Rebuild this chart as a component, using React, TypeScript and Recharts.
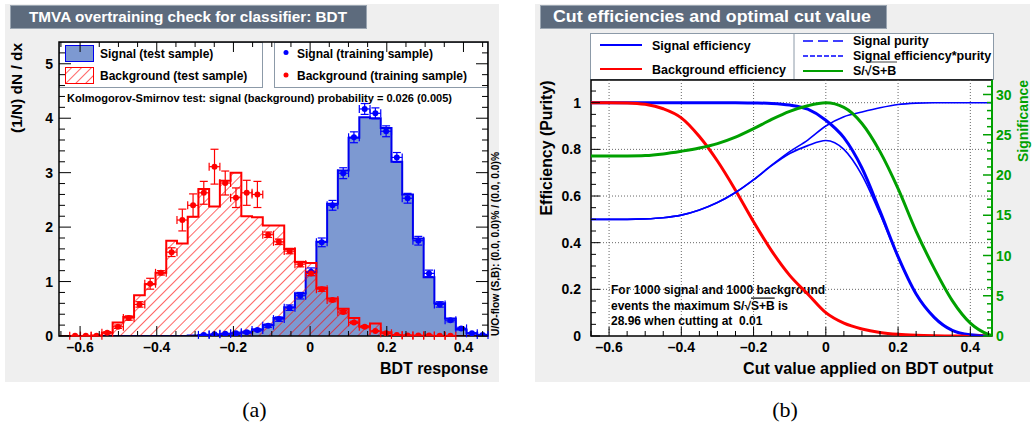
import React from 'react';
import {
  ComposedChart,
  Area,
  Line,
  Scatter,
  ErrorBar,
  XAxis,
  YAxis,
  ReferenceArea,
  ReferenceLine,
} from 'recharts';

const FONT = '"Liberation Sans", Arial, Helvetica, sans-serif';
const SERIF = '"Liberation Serif", "Times New Roman", serif';

// ---------- Panel (a): BDT response, 40 bins ----------
const BDT_MIN = -0.655;
const BDT_MAX = 0.464;
const N_BINS = 40;
const BIN_W = (BDT_MAX - BDT_MIN) / N_BINS;

// test-sample histograms (normalised, per bin)
const sigTest = [
  0, 0, 0, 0, 0, 0, 0, 0, 0, 0, 0, 0, 0.01, 0.02, 0.02, 0.03, 0.05, 0.07, 0.12, 0.2,
  0.33, 0.53, 0.78, 1.17, 1.73, 2.43, 3.04, 3.64, 4.02, 4.0, 3.82, 3.2, 2.6, 1.79, 1.08, 0.6,
  0.32, 0.12, 0.05, 0.02,
];
const bkgTest = [
  0, 0, 0, 0.01, 0.06, 0.25, 0.35, 0.75, 0.95, 1.16, 1.75, 1.7, 2.19, 2.7, 2.38, 2.85, 3.0,
  2.2, 2.18, 2.03, 2.03, 1.6, 1.36, 1.34, 0.88, 0.69, 0.5, 0.33, 0.17, 0.23, 0.07, 0.01, 0.01,
  0, 0, 0, 0, 0, 0, 0,
];

// training-sample points (null = not drawn) and their vertical errors
const sigTrain = [
  null, null, null, null, null, null, null, null, null, null, null, null, null,
  0.02, 0.03, 0.04, 0.05, 0.07, 0.11, 0.19, 0.31, 0.52, 0.74, 1.18, 1.72, 2.4, 2.99, 3.65,
  4.17, 4.09, 3.76, 3.28, 2.53, 1.75, 1.15, 0.58, 0.29, 0.14, 0.05, 0.02,
];
const sigTrainErr = [
  null, null, null, null, null, null, null, null, null, null, null, null, null,
  0.01, 0.01, 0.01, 0.02, 0.02, 0.02, 0.03, 0.04, 0.05, 0.06, 0.07, 0.08, 0.09, 0.1, 0.1,
  0.1, 0.1, 0.1, 0.09, 0.09, 0.08, 0.06, 0.05, 0.03, 0.02, 0.01, 0.01,
];
const bkgTrain = [
  null, 0.005, 0.005, 0.005, 0.06, 0.17, 0.33, 0.58, 0.96, 1.16, 1.54, 2.13, 2.4, 2.63, 3.11,
  2.81, 2.54, 2.63, 2.6, 1.86, 1.73, 1.56, 1.32, 1.15, 0.86, 0.66, 0.44, 0.25, 0.17, 0.09,
  0.05, 0.02, 0.01, 0.01, 0.01, 0.005, 0.005, null, null, null,
];
const bkgTrainErr = [
  null, 0.005, 0.005, 0.005, 0.02, 0.03, 0.04, 0.05, 0.1, 0.04, 0.08, 0.2, 0.21, 0.21, 0.32,
  0.22, 0.18, 0.23, 0.24, 0.05, 0.05, 0.05, 0.05, 0.04, 0.04, 0.03, 0.03, 0.02, 0.02, 0.01,
  0.01, 0.005, 0.005, 0.005, 0.005, 0.005, 0.005, null, null, null,
];

// ---------- Panel (b): efficiencies vs cut ----------
const cutValues = [
  -0.65, -0.6, -0.55, -0.5, -0.45, -0.4, -0.35, -0.3, -0.25, -0.2, -0.15, -0.1, -0.05, 0, 0.05,
  0.1, 0.15, 0.2, 0.25, 0.3, 0.35, 0.4, 0.45, 0.46,
];
const sigEff = [
  1, 1, 1, 1, 1, 1, 1, 1, 1, 0.999, 0.997, 0.99, 0.972, 0.925, 0.85, 0.72, 0.535, 0.34, 0.18,
  0.08, 0.024, 0.005, 0, 0,
];
const bkgEff = [
  1, 1, 0.999, 0.993, 0.974, 0.935, 0.855, 0.75, 0.625, 0.49, 0.365, 0.26, 0.18, 0.1, 0.055,
  0.03, 0.015, 0.007, 0.003, 0.001, 0, 0, 0, 0,
];
const sigPurity = [
  0.5, 0.5, 0.5, 0.502, 0.507, 0.518, 0.54, 0.572, 0.615, 0.67, 0.732, 0.79, 0.84, 0.9, 0.94,
  0.96, 0.978, 0.992, 0.998, 1, 1, 1, 1, 1,
];
const sigEffPurity = [
  0.5, 0.5, 0.5, 0.502, 0.507, 0.518, 0.54, 0.572, 0.615, 0.669, 0.73, 0.782, 0.816, 0.838, 0.8,
  0.69, 0.523, 0.337, 0.18, 0.08, 0.024, 0.005, 0, 0,
];
const significance = [
  22.36, 22.36, 22.37, 22.42, 22.62, 22.95, 23.35, 23.9, 24.7, 25.75, 26.9, 27.9, 28.6, 28.96,
  28.4, 26.4, 22.9, 18.3, 13.0, 8.4, 4.4, 1.6, 0.2, 0.05,
];

// axis tick values
const xTicks = Array.from({ length: 23 }, (_, i) => Math.round((i - 13) * 5) / 100);
const yTicksA = Array.from({ length: 27 }, (_, i) => Math.round(i * 2) / 10);
const yTicksB = Array.from({ length: 22 }, (_, i) => Math.round(i * 5) / 100);
const sigTicks = Array.from({ length: 32 }, (_, i) => i);
const xGridB = [-0.6, -0.4, -0.2, 0, 0.2, 0.4];
const yGridB = [0.2, 0.4, 0.6, 0.8, 1.0];

const B_YMAX = 1.0973;
const SIG_YMAX = 31.8;

// axis band sizes and plot-area sizes used for mirrored ticks
const AX = 20;
const A_W = 429;
const A_H = 294;

// ---------- derived tables ----------
const histRows = Array.from({ length: N_BINS + 1 }, (_, k) => ({
  x: BDT_MIN + k * BIN_W,
  sig: sigTest[Math.min(k, N_BINS - 1)],
  bkg: bkgTest[Math.min(k, N_BINS - 1)],
}));

const toPoints = (vals: (number | null)[], errs: (number | null)[]) =>
  vals
    .map((v, i) =>
      v === null ? null : { x: BDT_MIN + (i + 0.5) * BIN_W, y: v, ex: BIN_W / 2, ey: errs[i] ?? 0 }
    )
    .filter((p) => p !== null) as { x: number; y: number; ex: number; ey: number }[];

const sigPoints = toPoints(sigTrain, sigTrainErr);
const bkgPoints = toPoints(bkgTrain, bkgTrainErr);

const cutRows = cutValues.map((x, i) => ({
  x,
  sigEff: sigEff[i],
  bkgEff: bkgEff[i],
  pur: sigPurity[i],
  effPur: sigEffPurity[i],
  signif: significance[i],
}));

// ---------- helpers ----------
const isMult = (v: number, step: number) => Math.abs(v / step - Math.round(v / step)) < 1e-6;
const fmtNum = (v: number) => {
  const r = Math.round(v * 100) / 100;
  if (r === 0) return '0';
  const body = Number.isInteger(r) ? String(Math.abs(r)) : Math.abs(r).toFixed(1);
  return (r < 0 ? '\u2013' : '') + body;
};

const labelStyle = { fontFamily: FONT, fontWeight: 700 as const };

function TickAX(props: any) {
  const { x, y, payload } = props;
  const v = payload.value as number;
  const major = isMult(v, 0.2);
  const len = major ? 10 : 5;
  return (
    <g>
      <line x1={x} x2={x} y1={y} y2={y - len} stroke="#000" />
      <line x1={x} x2={x} y1={y - A_H} y2={y - A_H + len} stroke="#000" />
      {major && (
        <text x={x} y={y + 16} textAnchor="middle" fontSize={14} fill="#000" style={labelStyle}>
          {fmtNum(v)}
        </text>
      )}
    </g>
  );
}

function TickAY(props: any) {
  const { x, y, payload } = props;
  const v = payload.value as number;
  const major = isMult(v, 1);
  const len = major ? 12 : 6;
  return (
    <g>
      <line x1={x} x2={x + len} y1={y} y2={y} stroke="#000" />
      <line x1={x + A_W} x2={x + A_W - len} y1={y} y2={y} stroke="#000" />
      {major && (
        <text x={x - 6} y={y} dy="0.36em" textAnchor="end" fontSize={14} fill="#000" style={labelStyle}>
          {fmtNum(v)}
        </text>
      )}
    </g>
  );
}

function TickBX(props: any) {
  const { x, y, payload } = props;
  const v = payload.value as number;
  const major = isMult(v, 0.2);
  const len = major ? 9 : 5;
  return (
    <g>
      <line x1={x} x2={x} y1={y} y2={y - len} stroke="#000" />
      {major && (
        <text x={x} y={y + 16} textAnchor="middle" fontSize={14} fill="#000" style={labelStyle}>
          {fmtNum(v)}
        </text>
      )}
    </g>
  );
}

function TickBY(props: any) {
  const { x, y, payload } = props;
  const v = payload.value as number;
  const major = isMult(v, 0.2);
  const len = major ? 9 : 5;
  return (
    <g>
      <line x1={x} x2={x + len} y1={y} y2={y} stroke="#000" />
      {major && (
        <text x={x - 10} y={y} dy="0.36em" textAnchor="end" fontSize={14} fill="#000" style={labelStyle}>
          {fmtNum(v)}
        </text>
      )}
    </g>
  );
}

function TickSig(props: any) {
  const { x, y, payload } = props;
  const v = payload.value as number;
  const major = isMult(v, 5);
  const len = major ? 9 : 5;
  return (
    <g>
      <line x1={x} x2={x - len} y1={y} y2={y} stroke="#00a000" strokeWidth={1.5} />
      {major && (
        <text x={x + 4} y={y} dy="0.36em" textAnchor="start" fontSize={14} fill="#00a000" style={labelStyle}>
          {String(v)}
        </text>
      )}
    </g>
  );
}

const dotShape = (color: string) => (p: any) => <circle cx={p.cx} cy={p.cy} r={3} fill={color} />;

// ---------- static decorations (titles, legends, notes) ----------
function Decorations() {
  const legendBorder = '#8c9aa8';
  const titleFill = '#5d6b7d';
  return (
    <svg width={1036} height={429} style={{ position: 'absolute', left: 0, top: 0 }}>
      <defs>
        <pattern id="legendHatch" width={7} height={7} patternUnits="userSpaceOnUse" patternTransform="rotate(45)">
          <line x1={0} y1={0} x2={0} y2={7} stroke="#ff0000" strokeWidth={1.2} />
        </pattern>
      </defs>

      {/* panel backgrounds */}
      <rect x={5} y={4} width={494} height={378} fill="#efefef" />
      <rect x={535} y={4} width={495} height={378} fill="#efefef" />
      <rect x={59} y={42} width={429} height={294} fill="#fff" />
      <rect x={591} y={80} width={401} height={256} fill="#fff" />

      {/* titles */}
      <rect x={10.5} y={5.5} width={356} height={23} fill={titleFill} stroke="#9aa5b1" />
      <text x={29} y={22} fontSize={15} fill="#fff" style={labelStyle} textLength={318} lengthAdjust="spacingAndGlyphs">
        TMVA overtraining check for classifier: BDT
      </text>
      <rect x={540.5} y={5.5} width={346} height={23} fill={titleFill} stroke="#9aa5b1" />
      <text x={553} y={21.5} fontSize={16} fill="#fff" style={labelStyle} textLength={318} lengthAdjust="spacingAndGlyphs">
        Cut efficiencies and optimal cut value
      </text>

      {/* panel (a) legend */}
      <rect x={59.5} y={42.5} width={203} height={45} fill="#fff" stroke={legendBorder} />
      <rect x={65.5} y={45.5} width={28} height={16} fill="#7d99d1" stroke="#0000ee" />
      <text x={100} y={57.5} fontSize={12} fill="#000" style={labelStyle}>Signal (test sample)</text>
      <rect x={65.5} y={67.5} width={28} height={16} fill="url(#legendHatch)" stroke="#ff0000" />
      <text x={100} y={80} fontSize={12} fill="#000" style={labelStyle}>Background (test sample)</text>
      <rect x={274.5} y={42.5} width={213} height={45} fill="#fff" stroke={legendBorder} />
      <circle cx={286} cy={52.5} r={2.5} fill="#0000ff" />
      <text x={297} y={57.5} fontSize={12} fill="#000" style={labelStyle}>Signal (training sample)</text>
      <circle cx={286} cy={75} r={2.5} fill="#ff0000" />
      <text x={297} y={80} fontSize={12} fill="#000" style={labelStyle}>Background (training sample)</text>

      <text x={67} y={101.5} fontSize={11} fill="#000" style={labelStyle} textLength={385} lengthAdjust="spacingAndGlyphs">
        Kolmogorov-Smirnov test: signal (background) probability = 0.026 (0.005)
      </text>

      {/* panel (a) axis titles */}
      <text x={488} y={373.5} textAnchor="end" fontSize={16} fill="#000" style={labelStyle} textLength={108} lengthAdjust="spacingAndGlyphs">
        BDT response
      </text>
      <text
        x={17}
        y={88}
        dy="0.36em"
        textAnchor="middle"
        fontSize={15}
        fill="#000"
        style={labelStyle}
        transform="rotate(-90 17 88)"
        textLength={90}
        lengthAdjust="spacingAndGlyphs"
      >
        (1/N) dN / dx
      </text>
      <text
        x={495}
        y={244}
        dy="0.36em"
        textAnchor="middle"
        fontSize={10}
        fill="#000"
        style={labelStyle}
        transform="rotate(-90 495 244)"
        textLength={184}
        lengthAdjust="spacingAndGlyphs"
      >
        U/O-flow (S,B): (0.0, 0.0)% / (0.0, 0.0)%
      </text>

      {/* panel (b) legend */}
      <rect x={590.5} y={33.5} width={403} height={46} fill="#fff" stroke={legendBorder} />
      <line x1={794} x2={794} y1={33.5} y2={79.5} stroke={legendBorder} />
      <line x1={600} x2={642} y1={45} y2={45} stroke="#0000ff" strokeWidth={2} />
      <text x={652} y={49.5} fontSize={12.5} fill="#000" style={labelStyle}>Signal efficiency</text>
      <line x1={600} x2={642} y1={69} y2={69} stroke="#ff0000" strokeWidth={2} />
      <text x={652} y={73.5} fontSize={12.5} fill="#000" style={labelStyle}>Background efficiency</text>
      <line x1={803} x2={843} y1={41} y2={41} stroke="#0000ff" strokeWidth={1.5} strokeDasharray="10 5" />
      <text x={853} y={45.3} fontSize={12.5} fill="#000" style={labelStyle}>Signal purity</text>
      <line x1={803} x2={843} y1={56} y2={56} stroke="#0000ff" strokeWidth={1.5} strokeDasharray="5 2" />
      <text x={853} y={60.3} fontSize={12.5} fill="#000" style={labelStyle}>Signal efficiency*purity</text>
      <line x1={867} x2={897} y1={62} y2={62} stroke="#444" strokeWidth={1} />
      <line x1={803} x2={843} y1={71} y2={71} stroke="#00a000" strokeWidth={2} />
      <text x={853} y={75.3} fontSize={12.5} fill="#000" style={labelStyle}>S/{'\u221A'}S+B</text>

      {/* panel (b) note */}
      <text x={611} y={294} fontSize={12} fill="#000" style={labelStyle}>
        For 1000 signal and 1000 background
      </text>
      <text x={611} y={309.5} fontSize={12} fill="#000" style={labelStyle}>
        events the maximum S/{'\u221A'}
        <tspan style={{ textDecoration: 'overline' }}>S+B</tspan> is
      </text>
      <text x={611} y={325} fontSize={12} fill="#000" style={{ ...labelStyle, whiteSpace: 'pre' }}>
        {'28.96 when cutting at  0.01'}
      </text>

      {/* panel (b) axis titles */}
      <text x={993} y={373.5} textAnchor="end" fontSize={16} fill="#000" style={labelStyle} textLength={250} lengthAdjust="spacingAndGlyphs">
        Cut value applied on BDT output
      </text>
      <text
        x={546}
        y={148}
        dy="0.36em"
        textAnchor="middle"
        fontSize={16}
        fill="#000"
        style={labelStyle}
        transform="rotate(-90 546 148)"
        textLength={135}
        lengthAdjust="spacingAndGlyphs"
      >
        Efficiency (Purity)
      </text>
      <text
        x={1023}
        y={121}
        dy="0.36em"
        textAnchor="middle"
        fontSize={14}
        fill="#00a000"
        style={labelStyle}
        transform="rotate(-90 1023 121)"
        textLength={82}
        lengthAdjust="spacingAndGlyphs"
      >
        Significance
      </text>

      {/* captions */}
      <text x={254.5} y={417} textAnchor="middle" fontSize={22} fill="#000" fontFamily={SERIF}>(a)</text>
      <text x={785} y={417} textAnchor="middle" fontSize={22} fill="#000" fontFamily={SERIF}>(b)</text>
    </svg>
  );
}

function OvertrainingChart() {
  return (
    <div style={{ position: 'absolute', left: 0, top: 0, width: 500, height: 390 }}>
      <ComposedChart
        width={500}
        height={390}
        data={histRows}
        margin={{ top: 42, right: 12, bottom: 54 - AX, left: 59 - AX }}
      >
        <defs>
          <pattern id="bkgHatch" width={7} height={7} patternUnits="userSpaceOnUse" patternTransform="rotate(45)">
            <line x1={0} y1={0} x2={0} y2={7} stroke="#ff0000" strokeWidth={1.2} />
          </pattern>
        </defs>
        <XAxis
          dataKey="x"
          type="number"
          domain={[BDT_MIN, BDT_MAX]}
          allowDataOverflow
          ticks={xTicks}
          interval={0}
          height={AX}
          tickSize={0}
          tickMargin={0}
          tickLine={false}
          axisLine={false}
          tick={(p: any) => <TickAX {...p} />}
        />
        <YAxis
          type="number"
          domain={[0, 5.4]}
          allowDataOverflow
          ticks={yTicksA}
          interval={0}
          width={AX}
          tickSize={0}
          tickMargin={0}
          tickLine={false}
          axisLine={false}
          tick={(p: any) => <TickAY {...p} />}
        />
        <Area
          type="stepAfter"
          dataKey="sig"
          stroke="#0000ee"
          strokeWidth={2}
          fill="#7d99d1"
          fillOpacity={1}
          dot={false}
          activeDot={false}
          isAnimationActive={false}
        />
        <Area
          type="stepAfter"
          dataKey="bkg"
          stroke="#ff0000"
          strokeWidth={2}
          fill="url(#bkgHatch)"
          fillOpacity={1}
          dot={false}
          activeDot={false}
          isAnimationActive={false}
        />
        <Scatter data={sigPoints} dataKey="y" fill="#0000ff" shape={dotShape('#0000ff')} isAnimationActive={false}>
          <ErrorBar dataKey="ex" direction="x" width={4} stroke="#0000ff" strokeWidth={1.2} isAnimationActive={false} />
          <ErrorBar dataKey="ey" direction="y" width={4} stroke="#0000ff" strokeWidth={1.2} isAnimationActive={false} />
        </Scatter>
        <Scatter data={bkgPoints} dataKey="y" fill="#ff0000" shape={dotShape('#ff0000')} isAnimationActive={false}>
          <ErrorBar dataKey="ex" direction="x" width={4} stroke="#ff0000" strokeWidth={1.2} isAnimationActive={false} />
          <ErrorBar dataKey="ey" direction="y" width={4} stroke="#ff0000" strokeWidth={1.2} isAnimationActive={false} />
        </Scatter>
        <ReferenceArea
          x1={BDT_MIN}
          x2={BDT_MAX}
          y1={0}
          y2={5.4}
          fill="none"
          fillOpacity={0}
          stroke="#000"
          strokeWidth={1.5}
          ifOverflow="visible"
        />
      </ComposedChart>
    </div>
  );
}

function EfficiencyChart() {
  return (
    <div style={{ position: 'absolute', left: 530, top: 0, width: 506, height: 390 }}>
      <ComposedChart
        width={506}
        height={390}
        data={cutRows}
        margin={{ top: 80, right: 44 - AX, bottom: 54 - AX, left: 61 - AX }}
      >
        <XAxis
          dataKey="x"
          type="number"
          domain={[-0.65, 0.46]}
          allowDataOverflow
          ticks={xTicks}
          interval={0}
          height={AX}
          tickSize={0}
          tickMargin={0}
          tickLine={false}
          axisLine={false}
          tick={(p: any) => <TickBX {...p} />}
        />
        <YAxis
          type="number"
          domain={[0, B_YMAX]}
          allowDataOverflow
          ticks={yTicksB}
          interval={0}
          width={AX}
          tickSize={0}
          tickMargin={0}
          tickLine={false}
          axisLine={false}
          tick={(p: any) => <TickBY {...p} />}
        />
        <YAxis
          yAxisId="sig"
          orientation="right"
          type="number"
          domain={[0, SIG_YMAX]}
          allowDataOverflow
          ticks={sigTicks}
          interval={0}
          width={AX}
          tickSize={0}
          tickMargin={0}
          tickLine={false}
          axisLine={{ stroke: '#00a000', strokeWidth: 2 }}
          tick={(p: any) => <TickSig {...p} />}
        />
        {xGridB.map((v) => (
          <ReferenceLine key={`gx${v}`} x={v} stroke="#666" strokeDasharray="1 2" strokeWidth={1} />
        ))}
        {yGridB.map((v) => (
          <ReferenceLine key={`gy${v}`} y={v} stroke="#666" strokeDasharray="1 2" strokeWidth={1} />
        ))}
        <Line type="monotone" dataKey="sigEff" stroke="#0000ff" strokeWidth={3} dot={false} activeDot={false} isAnimationActive={false} />
        <Line type="monotone" dataKey="bkgEff" stroke="#ff0000" strokeWidth={3} dot={false} activeDot={false} isAnimationActive={false} />
        <Line type="monotone" dataKey="pur" stroke="#0000ff" strokeWidth={1.6} dot={false} activeDot={false} isAnimationActive={false} />
        <Line type="monotone" dataKey="effPur" stroke="#0000ff" strokeWidth={1.6} dot={false} activeDot={false} isAnimationActive={false} />
        <Line
          type="monotone"
          dataKey="signif"
          yAxisId="sig"
          stroke="#00a000"
          strokeWidth={3}
          dot={false}
          activeDot={false}
          isAnimationActive={false}
        />
        <ReferenceArea
          x1={-0.65}
          x2={0.46}
          y1={0}
          y2={B_YMAX}
          fill="none"
          fillOpacity={0}
          stroke="#000"
          strokeWidth={1.5}
          ifOverflow="visible"
        />
      </ComposedChart>
    </div>
  );
}

export default function App() {
  return (
    <div style={{ position: 'absolute', left: 0, top: 0, width: 1036, height: 429, background: '#fff', overflow: 'hidden' }}>
      <Decorations />
      <OvertrainingChart />
      <EfficiencyChart />
    </div>
  );
}
